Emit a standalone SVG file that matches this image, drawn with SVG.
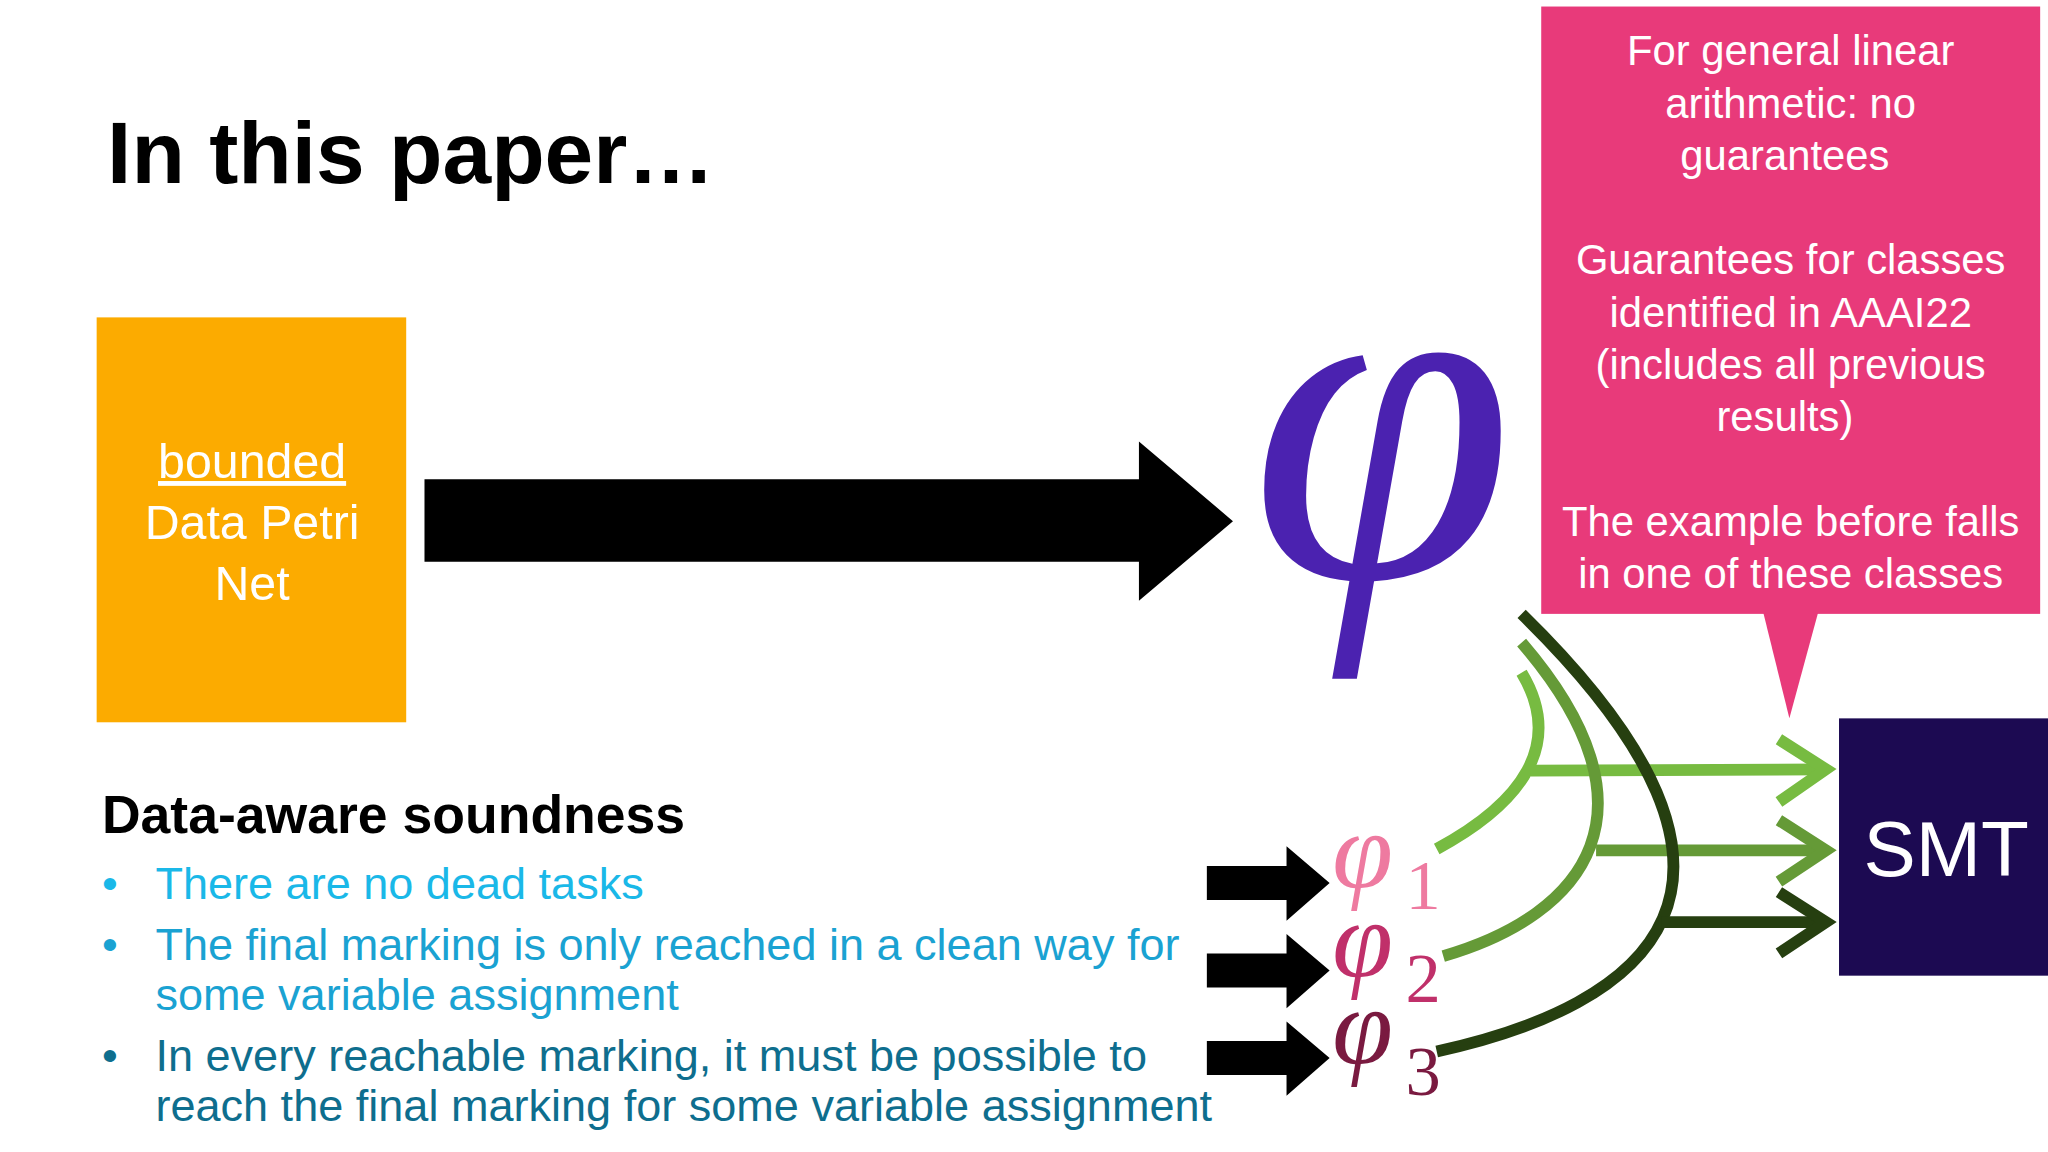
<svg xmlns="http://www.w3.org/2000/svg" width="2048" height="1152" viewBox="0 0 2048 1152">
<style>
.sans{font-family:"Helvetica Neue","Liberation Sans",Arial,sans-serif}
.w{fill:#fff;text-anchor:middle}
.phi{font-family:"Liberation Serif","Times New Roman",serif;font-style:italic}
.sub{font-family:"Liberation Serif","Times New Roman",serif}
.c{fill:none;stroke-width:9}
</style>
<rect width="2048" height="1152" fill="#fff"/>
<g transform="scale(1.30612)">
<text x="82" y="140" class="sans" font-size="67" font-weight="bold" fill="#000">In this paper…</text>
<g id="dpn">
<rect x="74" y="243" width="237" height="310" fill="#FCAB00"/>
<text class="sans w" font-size="37" font-weight="500"><tspan x="193" y="366" text-decoration="underline">bounded</tspan><tspan x="193" y="413">Data Petri</tspan><tspan x="193" y="459">Net</tspan></text>
</g>
<g id="bigarrow"><polygon points="325,367 872,367 872,338 944,399 872,460 872,430 325,430" fill="#000"/></g>
<g id="phi"><text x="1058" y="442" class="phi" font-size="365" fill="#4B22B0" text-anchor="middle">φ</text></g>
<g id="callout">
<rect x="1180" y="5" width="382" height="465" fill="#E83A7A"/>
<polygon points="1350,469 1392,469 1370,550" fill="#E83A7A"/>
<text class="sans w" font-size="32" font-weight="500">
<tspan x="1371" y="50">For general linear</tspan><tspan x="1371" y="90">arithmetic: no</tspan><tspan x="1371" y="130">guarantees</tspan>
<tspan x="1371" y="210">Guarantees for classes</tspan><tspan x="1371" y="250">identified in AAAI22</tspan><tspan x="1371" y="290">(includes all previous</tspan><tspan x="1371" y="330">results)</tspan>
<tspan x="1371" y="410">The example before falls</tspan><tspan x="1371" y="450">in one of these classes</tspan></text>
</g>
<g id="smt"><rect x="1408" y="550" width="160" height="197" fill="#1C0A52"/>
<text x="1490" y="671" class="sans w" font-size="60" font-weight="500">SMT</text></g>
<g id="soundness" class="sans" font-size="34.5">
<text x="78" y="638" font-size="41" font-weight="bold" fill="#000">Data-aware soundness</text>
<text x="78" y="688" fill="#1AB8E8">•</text><text x="119" y="688" fill="#1AB8E8">There are no dead tasks</text>
<text x="78" y="735" fill="#1AA2D2">•</text><text fill="#1AA2D2"><tspan x="119" y="735">The final marking is only reached in a clean way for</tspan><tspan x="119" y="773">some variable assignment</tspan></text>
<text x="78" y="820" fill="#0E6E8E">•</text><text fill="#0E6E8E"><tspan x="119" y="820">In every reachable marking, it must be possible to</tspan><tspan x="119" y="858">reach the final marking for some variable assignment</tspan></text>
</g>
<g id="phis">
<polygon points="924,663 985,663 985,648 1018,676 985,705 985,689 924,689" fill="#000"/>
<polygon points="924,730 985,730 985,715 1018,743 985,772 985,756 924,756" fill="#000"/>
<polygon points="924,797 985,797 985,782 1018,810 985,839 985,823 924,823" fill="#000"/>
<text x="1020" y="680" class="phi" font-size="84" fill="#EE7AA0">φ</text><text x="1076" y="696" class="sub" font-size="54" fill="#EE7AA0">1</text>
<text x="1020" y="748" class="phi" font-size="84" fill="#C0306A">φ</text><text x="1076" y="767" class="sub" font-size="54" fill="#C0306A">2</text>
<text x="1020" y="815" class="phi" font-size="84" fill="#7A1A40">φ</text><text x="1076" y="838" class="sub" font-size="54" fill="#7A1A40">3</text>
</g>
<g id="connectors">
<path class="c" stroke="#77BB41" d="M1100,650 C1165,615 1198,570 1165,515"/>
<path class="c" stroke="#77BB41" d="M1172,590 L1398,589"/>
<polyline class="c" stroke="#77BB41" points="1362,566 1398,589 1362,614"/>
<path class="c" stroke="#659A37" d="M1105,732 C1215,700 1275,620 1165,492"/>
<path class="c" stroke="#659A37" d="M1222,651 L1398,651"/>
<polyline class="c" stroke="#659A37" points="1362,628 1398,651 1362,675"/>
<path class="c" stroke="#263F10" d="M1100,805 C1260,770 1380,680 1165,470"/>
<path class="c" stroke="#263F10" d="M1272,706 L1398,706"/>
<polyline class="c" stroke="#263F10" points="1362,683 1398,706 1362,730"/>
</g>
</g>
</svg>
